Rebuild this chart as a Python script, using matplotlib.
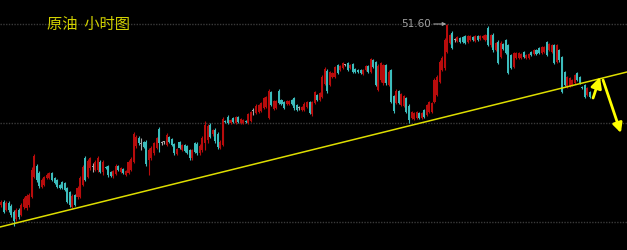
import numpy as np
import matplotlib
matplotlib.use("Agg")
import matplotlib.pyplot as plt

plt.rcParams['font.family'] = ['Noto Sans CJK SC', 'DejaVu Sans']

# hourly crude oil candles (open, close, high, low)
opens = [49.79, 49.82, 49.74, 49.81, 49.78, 49.72, 49.65, 49.74, 49.69, 49.77,
         49.76, 49.79, 49.87, 50.07, 50.18, 50.11, 49.97, 49.99, 50.06, 50.06,
         50.11, 50.06, 50.04, 49.99, 50.02, 50.01, 49.96, 49.92, 49.77, 49.89,
         49.87, 49.87, 49.99, 50.26, 50.07, 50.16, 50.17, 50.14, 50.14, 50.22,
         50.12, 50.17, 50.18, 50.12, 50.08, 50.10, 50.18, 50.12, 50.15, 50.09,
         50.11, 50.14, 50.22, 50.38, 50.46, 50.40, 50.42, 50.42, 50.24, 50.26,
         50.31, 50.36, 50.55, 50.41, 50.42, 50.39, 50.47, 50.45, 50.40, 50.30,
         50.42, 50.34, 50.39, 50.38, 50.34, 50.26, 50.41, 50.40, 50.31, 50.34,
         50.41, 50.44, 50.59, 50.50, 50.54, 50.50, 50.36, 50.39, 50.63, 50.67,
         50.61, 50.66, 50.61, 50.67, 50.61, 50.61, 50.63, 50.61, 50.63, 50.73,
         50.71, 50.72, 50.73, 50.76, 50.77, 50.66, 50.92, 50.75, 50.76, 50.93,
         50.84, 50.82, 50.80, 50.80, 50.84, 50.86, 50.79, 50.76, 50.74, 50.74,
         50.77, 50.82, 50.70, 50.81, 50.89, 50.84, 50.87, 51.00, 51.13, 50.99,
         51.07, 51.07, 51.19, 51.14, 51.16, 51.19, 51.21, 51.16, 51.20, 51.15,
         51.14, 51.14, 51.10, 51.14, 51.18, 51.12, 51.24, 51.22, 50.94, 51.04,
         51.01, 51.19, 50.99, 51.14, 50.88, 50.81, 50.93, 50.79, 50.78, 50.86,
         50.78, 50.66, 50.65, 50.66, 50.71, 50.66, 50.74, 50.69, 50.72, 50.72,
         50.82, 50.89, 51.02, 51.14, 51.16, 51.32, 51.41, 51.51, 51.44, 51.43,
         51.46, 51.47, 51.48, 51.42, 51.44, 51.47, 51.43, 51.48, 51.45, 51.46,
         51.44, 51.56, 51.39, 51.49, 51.34, 51.42, 51.27, 51.40, 51.44, 51.39,
         51.29, 51.17, 51.26, 51.26, 51.26, 51.32, 51.26, 51.26, 51.32, 51.30,
         51.34, 51.36, 51.31, 51.32, 51.42, 51.34, 51.32, 51.39, 51.22, 51.34,
         51.27, 51.12, 50.97, 50.98, 50.99, 51.01, 51.11, 51.07, 50.97, 50.99,
         50.89, 50.92]
closes = [49.82, 49.72, 49.81, 49.74, 49.69, 49.63, 49.74, 49.67, 49.79, 49.85,
          49.88, 49.89, 50.14, 50.28, 50.04, 49.98, 50.04, 50.07, 50.09, 50.11,
          50.04, 50.01, 49.97, 49.96, 49.96, 49.94, 49.82, 49.79, 49.88, 49.79,
          49.96, 50.06, 50.17, 50.04, 50.23, 50.26, 50.17, 50.22, 50.26, 50.12,
          50.22, 50.16, 50.09, 50.08, 50.13, 50.18, 50.14, 50.16, 50.11, 50.13,
          50.22, 50.25, 50.50, 50.47, 50.41, 50.40, 50.37, 50.20, 50.34, 50.36,
          50.41, 50.46, 50.41, 50.41, 50.42, 50.49, 50.42, 50.39, 50.31, 50.35,
          50.36, 50.39, 50.33, 50.31, 50.26, 50.34, 50.32, 50.31, 50.38, 50.46,
          50.59, 50.58, 50.47, 50.54, 50.43, 50.37, 50.42, 50.65, 50.62, 50.61,
          50.64, 50.62, 50.67, 50.62, 50.65, 50.64, 50.62, 50.70, 50.72, 50.73,
          50.78, 50.79, 50.81, 50.86, 50.87, 50.93, 50.79, 50.83, 50.83, 50.81,
          50.80, 50.76, 50.83, 50.83, 50.80, 50.76, 50.74, 50.76, 50.77, 50.80,
          50.82, 50.71, 50.82, 50.92, 50.84, 50.91, 51.07, 51.15, 50.93, 51.12,
          51.11, 51.17, 51.11, 51.18, 51.21, 51.19, 51.14, 51.19, 51.12, 51.12,
          51.12, 51.11, 51.14, 51.18, 51.12, 51.25, 51.17, 50.99, 51.18, 51.21,
          51.19, 51.01, 51.12, 50.82, 50.73, 50.93, 50.81, 50.90, 50.88, 50.72,
          50.64, 50.72, 50.71, 50.72, 50.66, 50.71, 50.67, 50.79, 50.82, 50.81,
          51.04, 51.07, 51.22, 51.26, 51.44, 51.59, 51.49, 51.36, 51.44, 51.47,
          51.42, 51.42, 51.41, 51.48, 51.48, 51.44, 51.48, 51.44, 51.48, 51.48,
          51.49, 51.39, 51.49, 51.34, 51.41, 51.21, 51.41, 51.35, 51.31, 51.11,
          51.16, 51.31, 51.31, 51.31, 51.30, 51.27, 51.29, 51.30, 51.29, 51.34,
          51.30, 51.31, 51.37, 51.37, 51.29, 51.40, 51.39, 51.21, 51.39, 51.24,
          50.92, 50.99, 51.07, 51.06, 51.04, 51.09, 51.04, 51.01, 50.96, 50.87,
          50.96, 50.87]
highs = [49.84, 49.84, 49.83, 49.83, 49.80, 49.74, 49.76, 49.76, 49.81, 49.87,
         49.90, 49.91, 50.17, 50.30, 50.20, 50.13, 50.06, 50.08, 50.11, 50.12,
         50.12, 50.07, 50.05, 50.00, 50.03, 50.02, 49.97, 49.93, 49.90, 49.90,
         49.98, 50.08, 50.19, 50.28, 50.25, 50.27, 50.21, 50.24, 50.28, 50.24,
         50.24, 50.18, 50.19, 50.13, 50.14, 50.20, 50.19, 50.17, 50.16, 50.14,
         50.24, 50.27, 50.52, 50.49, 50.48, 50.46, 50.43, 50.44, 50.36, 50.38,
         50.42, 50.47, 50.57, 50.43, 50.43, 50.51, 50.48, 50.46, 50.41, 50.36,
         50.43, 50.40, 50.40, 50.39, 50.35, 50.35, 50.42, 50.42, 50.40, 50.48,
         50.63, 50.60, 50.61, 50.55, 50.56, 50.52, 50.44, 50.67, 50.64, 50.69,
         50.65, 50.67, 50.68, 50.68, 50.66, 50.65, 50.64, 50.71, 50.73, 50.76,
         50.80, 50.80, 50.82, 50.87, 50.88, 50.95, 50.93, 50.84, 50.84, 50.95,
         50.85, 50.83, 50.84, 50.84, 50.85, 50.87, 50.80, 50.78, 50.78, 50.82,
         50.83, 50.83, 50.83, 50.93, 50.90, 50.92, 51.09, 51.17, 51.15, 51.13,
         51.12, 51.18, 51.20, 51.19, 51.22, 51.20, 51.22, 51.20, 51.21, 51.16,
         51.15, 51.15, 51.15, 51.19, 51.19, 51.26, 51.25, 51.23, 51.20, 51.22,
         51.20, 51.20, 51.14, 51.15, 50.89, 50.95, 50.94, 50.91, 50.89, 50.87,
         50.80, 50.73, 50.72, 50.73, 50.72, 50.72, 50.75, 50.80, 50.83, 50.82,
         51.06, 51.09, 51.24, 51.28, 51.46, 51.60, 51.50, 51.53, 51.46, 51.48,
         51.47, 51.48, 51.49, 51.49, 51.49, 51.48, 51.49, 51.49, 51.49, 51.49,
         51.50, 51.58, 51.50, 51.51, 51.42, 51.44, 51.43, 51.41, 51.45, 51.40,
         51.30, 51.32, 51.32, 51.32, 51.31, 51.33, 51.30, 51.31, 51.33, 51.35,
         51.35, 51.37, 51.38, 51.38, 51.43, 51.41, 51.40, 51.40, 51.40, 51.35,
         51.28, 51.13, 51.08, 51.07, 51.05, 51.10, 51.12, 51.08, 50.98, 51.00,
         50.97, 50.93]
lows = [49.77, 49.71, 49.73, 49.72, 49.67, 49.58, 49.63, 49.65, 49.68, 49.75,
        49.74, 49.77, 49.86, 50.06, 50.02, 49.96, 49.96, 49.98, 50.05, 50.05,
        50.03, 50.00, 49.96, 49.95, 49.95, 49.93, 49.81, 49.77, 49.76, 49.78,
        49.85, 49.86, 49.98, 50.03, 50.06, 50.14, 50.12, 50.13, 50.12, 50.11,
        50.09, 50.15, 50.07, 50.07, 50.06, 50.09, 50.13, 50.11, 50.10, 50.08,
        50.10, 50.13, 50.21, 50.36, 50.39, 50.34, 50.36, 50.18, 50.09, 50.24,
        50.29, 50.35, 50.32, 50.39, 50.40, 50.38, 50.41, 50.38, 50.29, 50.29,
        50.35, 50.33, 50.32, 50.30, 50.24, 50.24, 50.31, 50.29, 50.29, 50.32,
        50.34, 50.41, 50.46, 50.48, 50.41, 50.35, 50.35, 50.38, 50.61, 50.60,
        50.60, 50.61, 50.60, 50.61, 50.60, 50.60, 50.61, 50.60, 50.62, 50.69,
        50.70, 50.71, 50.72, 50.75, 50.76, 50.65, 50.78, 50.74, 50.75, 50.80,
        50.79, 50.75, 50.79, 50.79, 50.79, 50.74, 50.73, 50.74, 50.73, 50.73,
        50.76, 50.70, 50.68, 50.80, 50.83, 50.83, 50.86, 50.99, 50.91, 50.98,
        51.06, 51.06, 51.10, 51.13, 51.15, 51.18, 51.13, 51.15, 51.11, 51.11,
        51.11, 51.10, 51.09, 51.13, 51.11, 51.11, 51.16, 50.98, 50.93, 51.02,
        50.99, 50.99, 50.98, 50.81, 50.71, 50.80, 50.80, 50.78, 50.77, 50.71,
        50.61, 50.65, 50.64, 50.65, 50.65, 50.65, 50.66, 50.68, 50.71, 50.71,
        50.81, 50.88, 51.01, 51.13, 51.14, 51.31, 51.40, 51.35, 51.42, 51.42,
        51.41, 51.41, 51.40, 51.41, 51.43, 51.43, 51.42, 51.43, 51.44, 51.45,
        51.43, 51.38, 51.37, 51.32, 51.33, 51.20, 51.26, 51.34, 51.30, 51.10,
        51.15, 51.16, 51.25, 51.25, 51.25, 51.26, 51.25, 51.25, 51.28, 51.29,
        51.29, 51.30, 51.30, 51.31, 51.28, 51.33, 51.31, 51.20, 51.21, 51.22,
        50.91, 50.98, 50.96, 50.97, 50.98, 51.00, 51.03, 51.00, 50.95, 50.86,
        50.88, 50.86]

grid_levels = [51.60, 50.61, 49.62]
peak_label = "51.60"
trend_x = [-0.4, 245.5]
trend_y = [49.57, 51.12]

o = np.array(opens)
c = np.array(closes)
h = np.array(highs)
l = np.array(lows)
x = np.arange(len(o))

colors = np.where(c > o, '#b80c0c', np.where(c < o, '#3cbcbc', '#a8a8a8'))

fig = plt.figure(figsize=(6.27, 2.5), dpi=100, facecolor='black')
ax = fig.add_axes([0, 0, 1, 1])
ax.set_facecolor('black')
ax.set_xlim(-0.4, 245.5)
ax.set_ylim(49.34, 51.84)
ax.axis('off')

for lv in grid_levels:
    ax.axhline(lv, color='#3a3a3a', lw=1.0, ls=(0, (1, 1)), zorder=0)

# wicks + bodies
ax.vlines(x, l, h, colors=colors, lw=0.8, zorder=2)
body_lo = np.minimum(o, c)
body_h = np.maximum(np.abs(c - o), 0.012)
ax.bar(x, body_h, bottom=body_lo, width=0.8, color=colors, linewidth=0, zorder=3)

# trend line
ax.plot(trend_x, trend_y, color='#dede00', lw=1.1, zorder=4)

# peak label
ax.annotate(peak_label, xy=(174.6, 51.60), xytext=(168.6, 51.60),
            ha='right', va='center', fontsize=7.5, color='#a0a0a0',
            family=['DejaVu Sans'],
            arrowprops=dict(arrowstyle='-|>', color='#a0a0a0', lw=0.8,
                            mutation_scale=5, shrinkA=0, shrinkB=0))

# forecast arrows
ax.annotate('', xy=(234.9, 51.07), xytext=(232.2, 50.86),
            arrowprops=dict(arrowstyle='-|>', color='#ffff00', lw=2.0,
                            mutation_scale=16, shrinkA=0, shrinkB=0), zorder=5)
ax.annotate('', xy=(243.1, 50.51), xytext=(236.1, 51.04),
            arrowprops=dict(arrowstyle='-|>', color='#ffff00', lw=2.0,
                            mutation_scale=14, shrinkA=0, shrinkB=0), zorder=5)

ax.text(47 / 627, 1 - 24 / 250, '原油  小时图', transform=ax.transAxes,
        ha='left', va='center', fontsize=11, color='#d2d200')

fig.savefig('out.png', dpi=100, facecolor='black')
